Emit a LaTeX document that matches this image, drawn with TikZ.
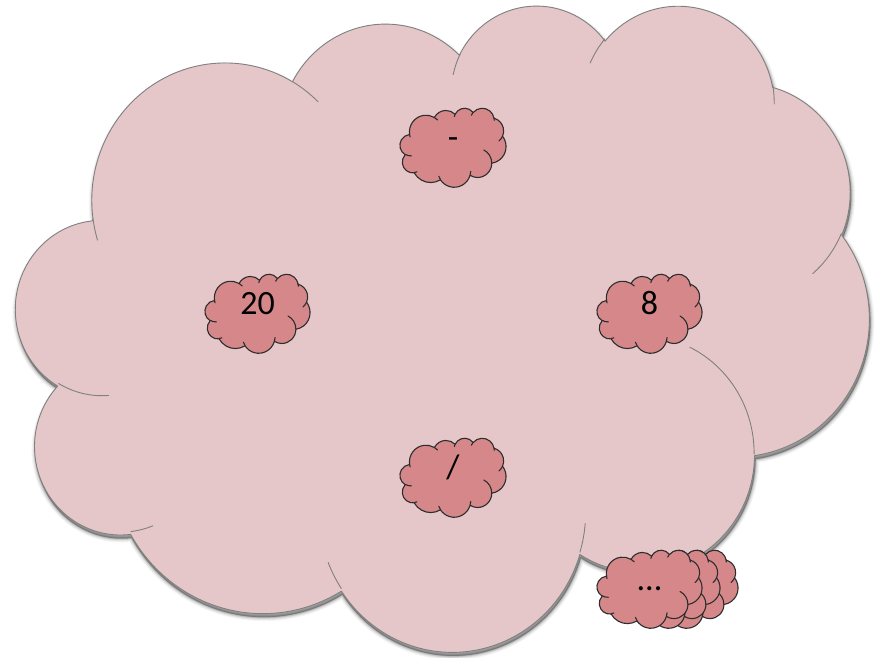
\documentclass[tikz,border=0pt]{standalone}
\usepackage{fontspec}
\setmainfont{Carlito}

\definecolor{bigfill}{RGB}{229,199,201}
\definecolor{bigline}{RGB}{128,128,128}
\definecolor{smallfill}{RGB}{214,135,137}
\definecolor{smallline}{RGB}{45,45,45}

% elliptical arc given by radii, start angle and sweep, with the angles
% measured as seen from the centre (converted to parametric angles)
\newcommand\cldarc[4]{arc[x radius=#1, y radius=#2,
  start angle={atan2((#1)*sin(#3),(#2)*cos(#3))},
  delta angle={mod(atan2((#1)*sin((#3)+(#4)),(#2)*cos((#3)+(#4)))-atan2((#1)*sin(#3),(#2)*cos(#3))+720,360)}]}

% cloud outline in a 43.2 x 43.2 box, y pointing down
\newcommand\cloudoutline{(3.9,14.37)
  \cldarc{6.753}{9.19}{-190.48748}{123.78053}
  \cldarc{5.333}{7.267}{-144.10238}{89.94523}
  \cldarc{4.365}{5.945}{-145.80792}{99.72302}
  \cldarc{4.857}{6.595}{-130.98607}{117.24173}
  \cldarc{5.333}{7.273}{-78.70888}{109.02692}
  \cldarc{6.775}{9.22}{-46.26725}{130.269}
  \cldarc{5.785}{7.867}{0.62502}{114.03333}
  \cldarc{6.752}{9.215}{22.4516}{115.17255}
  \cldarc{7.72}{10.543}{66.24263}{75.71102}
  \cldarc{4.36}{5.918}{-274.94208}{146.73557}
  \cldarc{4.345}{5.945}{-246.8285}{152.51885} -- cycle}

% short inner arcs where the puffs overlap
\newcommand\cloudinner{%
  (4.693,26.177) \cldarc{4.345}{5.945}{86.742}{26.4295}
  (6.928,34.899) \cldarc{4.36}{5.918}{73.61047}{11.44747}
  (16.478,39.09) \cldarc{6.752}{9.215}{137.62415}{14.0811}
  (28.827,34.751) \cldarc{6.752}{9.215}{6.45327}{15.99835}
  (34.129,22.954) \cldarc{5.785}{7.867}{-70.29235}{70.91737}
  (41.798,15.354) \cldarc{5.333}{7.273}{30.31803}{27.7515}
  (38.324,5.426) \cldarc{4.857}{6.595}{-13.74433}{14.8589}
  (29.078,3.952) \cldarc{4.857}{6.595}{-149.18145}{18.19537}
  (22.141,4.72) \cldarc{4.365}{5.945}{-163.49427}{17.68635}
  (14.0,5.192) \cldarc{6.753}{9.19}{-66.70695}{12.31935}
  (4.127,15.789) \cldarc{6.753}{9.19}{157.65435}{11.85817}}

% place a cloud box: left, top, width, height (pixels from the top left)
\newcommand\cloudat[5]{\begin{scope}[shift={(#1,658-#2)}, xscale=#3/43.2, yscale=-#4/43.2]#5\end{scope}}

\tikzset{
  bigcloud/.style={fill=bigfill, draw=bigline, line width=0.9pt, line join=round},
  bigarcs/.style={draw=bigline, line width=0.9pt, line cap=round},
  smallcloud/.style={fill=smallfill, draw=smallline, line width=1.1pt, line join=round},
  smallarcs/.style={draw=smallline, line width=1.1pt, line cap=round},
  lbl/.style={anchor=base, inner sep=0pt, font=\fontsize{34}{40}\selectfont}
}

\newcommand\smallcloud[4]{\cloudat{#1}{#2}{#3}{#4}{\path[smallcloud] \cloudoutline; \path[smallarcs] \cloudinner;}}

\begin{document}
\begin{tikzpicture}[x=1pt, y=1pt]
  \useasboundingbox (0,0) rectangle (879,658);
  \fill[white] (0,0) rectangle (879,658);

  % soft shadow of the large cloud
  \cloudat{17}{7.5}{853}{646}{%
    \foreach \w/\o in {8/0.04,6/0.05,4/0.07,2.5/0.09,1/0.12}{%
      \filldraw[black, opacity=\o, line width=\w pt, line join=round] \cloudoutline;}}

  % large cloud
  \cloudat{16}{4}{853}{646}{\path[bigcloud] \cloudoutline; \path[bigarcs] \cloudinner;}

  % small clouds
  \smallcloud{400}{108}{106}{79}
  \smallcloud{205}{274}{105}{79}
  \smallcloud{597}{274}{105}{79}
  \smallcloud{400}{438}{106}{79}
  \smallcloud{633}{550}{105}{78}
  \smallcloud{615}{550}{105}{78}
  \smallcloud{597}{550}{105}{78}

  % labels
  \node[lbl] (minus)  at (453,658-149) {-};
  \node[lbl] (twenty) at (257.5,658-315) {20};
  \node[lbl] (eight)  at (649.5,658-315) {8};
  \node[lbl] (slash)  at (453,658-479) {/};
  \node[lbl] (more)   at (649.5,658-591) {...};
\end{tikzpicture}
\end{document}
